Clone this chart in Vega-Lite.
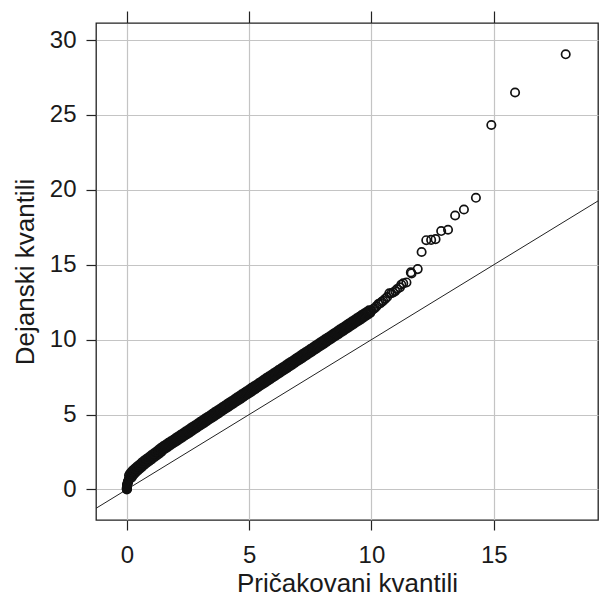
{
"$schema": "https://vega.github.io/schema/vega-lite/v6.json",
"width": 502, "height": 497,
"autosize": {"type": "none"},
"padding": {"left": 96, "top": 23, "right": 1, "bottom": 76},
"background": "white",
"config": {
 "view": {"stroke": "#222222", "strokeWidth": 1.3},
 "font": "Liberation Sans",
 "axis": {"labelFont": "Liberation Sans", "titleFont": "Liberation Sans", "labelColor": "#1a1a1a", "titleColor": "#1a1a1a", "titleFontWeight": "normal", "tickColor": "#222222", "domain": false, "gridColor": "#c4c4c4", "gridWidth": 1.2, "labelFontSize": 24, "titleFontSize": 26}
},
"datasets": {
 "ref": [{"exp": -1.26, "obs": -1.26}, {"exp": 19.26, "obs": 19.26}],
 "pts": [
{"exp":0,"obs":0},{"exp":0,"obs":0.03},{"exp":0,"obs":0.06},{"exp":0.001,"obs":0.09},{"exp":0.002,"obs":0.12},{"exp":0.004,"obs":0.16},{"exp":0.006,"obs":0.2},{"exp":0.009,"obs":0.24},{"exp":0.013,"obs":0.28},{"exp":0.018,"obs":0.33},{"exp":0.025,"obs":0.38},{"exp":0.033,"obs":0.43},{"exp":0.043,"obs":0.49},{"exp":0.055,"obs":0.55},{"exp":0.068,"obs":0.61},{"exp":0.083,"obs":0.67},{"exp":0.1,"obs":0.73},{"exp":0.12,"obs":0.8},{"exp":0.14,"obs":0.86},{"exp":0.165,"obs":0.93},{"exp":0.19,"obs":0.99},{"exp":0.22,"obs":1.05},{"exp":0.25,"obs":1.11},{"exp":0.28,"obs":1.16},{"exp":0.31,"obs":1.21},{"exp":0.35,"obs":1.27},{"exp":0.39,"obs":1.33},{"exp":0.43,"obs":1.39},{"exp":0.47,"obs":1.45},{"exp":0.51,"obs":1.51},{"exp":0.56,"obs":1.57},{"exp":0.61,"obs":1.64},{"exp":0.66,"obs":1.71},{"exp":0.71,"obs":1.78},{"exp":0.76,"obs":1.85},{"exp":0.81,"obs":1.91},{"exp":0.86,"obs":1.97},{"exp":0.91,"obs":2.03},{"exp":0.96,"obs":2.09},{"exp":1.01,"obs":2.15},{"exp":1.06,"obs":2.21},{"exp":1.11,"obs":2.27},{"exp":1.16,"obs":2.33},{"exp":1.21,"obs":2.39},{"exp":1.26,"obs":2.45},{"exp":1.31,"obs":2.51},{"exp":1.36,"obs":2.58},
{"exp":0.19,"obs":0.78},{"exp":0.24,"obs":0.91},{"exp":0.30,"obs":1.03},{"exp":0.36,"obs":1.13},{"exp":0.44,"obs":1.25},{"exp":0.52,"obs":1.37},{"exp":0.61,"obs":1.49},{"exp":0.71,"obs":1.63},{"exp":0.81,"obs":1.77},{"exp":0.91,"obs":1.89},{"exp":1.01,"obs":2.01},{"exp":1.11,"obs":2.13},{"exp":1.21,"obs":2.25},{"exp":1.31,"obs":2.37},{"exp":1.41,"obs":2.50},
{"exp":0.09,"obs":0.94},{"exp":0.14,"obs":1.07},{"exp":0.20,"obs":1.19},{"exp":0.26,"obs":1.29},{"exp":0.34,"obs":1.41},{"exp":0.42,"obs":1.53},{"exp":0.51,"obs":1.65},{"exp":0.61,"obs":1.79},{"exp":0.71,"obs":1.93},{"exp":0.81,"obs":2.05},{"exp":0.91,"obs":2.17},{"exp":1.01,"obs":2.29},{"exp":1.11,"obs":2.41},{"exp":1.21,"obs":2.53},{"exp":1.31,"obs":2.66},
{"exp":1.40,"obs":2.78},{"exp":1.50,"obs":2.89},{"exp":1.60,"obs":3.00},{"exp":1.70,"obs":3.11},{"exp":1.80,"obs":3.21},{"exp":1.90,"obs":3.32},{"exp":2.00,"obs":3.43},{"exp":2.10,"obs":3.54},{"exp":2.20,"obs":3.65},{"exp":2.30,"obs":3.75},{"exp":2.40,"obs":3.86},{"exp":2.50,"obs":3.97},{"exp":2.60,"obs":4.08},{"exp":2.70,"obs":4.19},{"exp":2.80,"obs":4.29},{"exp":2.90,"obs":4.40},{"exp":3.00,"obs":4.51},{"exp":3.10,"obs":4.62},{"exp":3.20,"obs":4.73},{"exp":3.30,"obs":4.83},{"exp":3.40,"obs":4.94},{"exp":3.50,"obs":5.05},{"exp":3.60,"obs":5.16},{"exp":3.70,"obs":5.27},{"exp":3.80,"obs":5.37},{"exp":3.90,"obs":5.48},{"exp":4.00,"obs":5.59},{"exp":4.10,"obs":5.70},{"exp":4.20,"obs":5.81},{"exp":4.30,"obs":5.91},{"exp":4.40,"obs":6.02},{"exp":4.50,"obs":6.13},{"exp":4.60,"obs":6.24},{"exp":4.70,"obs":6.35},{"exp":4.80,"obs":6.45},{"exp":4.90,"obs":6.56},{"exp":5.00,"obs":6.67},{"exp":5.10,"obs":6.78},{"exp":5.20,"obs":6.89},{"exp":5.30,"obs":6.99},{"exp":5.40,"obs":7.10},{"exp":5.50,"obs":7.21},{"exp":5.60,"obs":7.32},{"exp":5.70,"obs":7.43},{"exp":5.80,"obs":7.53},{"exp":5.90,"obs":7.64},{"exp":6.00,"obs":7.75},{"exp":6.10,"obs":7.86},{"exp":6.20,"obs":7.97},{"exp":6.30,"obs":8.07},{"exp":6.40,"obs":8.18},{"exp":6.50,"obs":8.29},{"exp":6.60,"obs":8.40},{"exp":6.70,"obs":8.51},{"exp":6.80,"obs":8.61},{"exp":6.90,"obs":8.72},{"exp":7.00,"obs":8.83},{"exp":7.10,"obs":8.94},{"exp":7.20,"obs":9.05},{"exp":7.30,"obs":9.15},{"exp":7.40,"obs":9.26},{"exp":7.50,"obs":9.37},{"exp":7.60,"obs":9.48},{"exp":7.70,"obs":9.59},{"exp":7.80,"obs":9.69},{"exp":7.90,"obs":9.80},{"exp":8.00,"obs":9.91},{"exp":8.10,"obs":10.02},{"exp":8.20,"obs":10.13},{"exp":8.30,"obs":10.23},{"exp":8.40,"obs":10.34},{"exp":8.50,"obs":10.45},{"exp":8.60,"obs":10.56},{"exp":8.70,"obs":10.67},{"exp":8.80,"obs":10.77},{"exp":8.90,"obs":10.88},{"exp":9.00,"obs":10.99},{"exp":9.10,"obs":11.10},{"exp":9.20,"obs":11.21},{"exp":9.30,"obs":11.31},{"exp":9.40,"obs":11.42},{"exp":9.50,"obs":11.53},{"exp":9.60,"obs":11.64},{"exp":9.70,"obs":11.75},{"exp":9.80,"obs":11.85},{"exp":9.90,"obs":11.96},
{"exp":1.45,"obs":2.60},{"exp":1.55,"obs":2.70},{"exp":1.65,"obs":2.81},{"exp":1.75,"obs":2.92},{"exp":1.85,"obs":3.03},{"exp":1.95,"obs":3.14},{"exp":2.05,"obs":3.24},{"exp":2.15,"obs":3.35},{"exp":2.25,"obs":3.46},{"exp":2.35,"obs":3.57},{"exp":2.45,"obs":3.68},{"exp":2.55,"obs":3.78},{"exp":2.65,"obs":3.89},{"exp":2.75,"obs":4.00},{"exp":2.85,"obs":4.11},{"exp":2.95,"obs":4.22},{"exp":3.05,"obs":4.32},{"exp":3.15,"obs":4.43},{"exp":3.25,"obs":4.54},{"exp":3.35,"obs":4.65},{"exp":3.45,"obs":4.76},{"exp":3.55,"obs":4.86},{"exp":3.65,"obs":4.97},{"exp":3.75,"obs":5.08},{"exp":3.85,"obs":5.19},{"exp":3.95,"obs":5.30},{"exp":4.05,"obs":5.40},{"exp":4.15,"obs":5.51},{"exp":4.25,"obs":5.62},{"exp":4.35,"obs":5.73},{"exp":4.45,"obs":5.84},{"exp":4.55,"obs":5.94},{"exp":4.65,"obs":6.05},{"exp":4.75,"obs":6.16},{"exp":4.85,"obs":6.27},{"exp":4.95,"obs":6.38},{"exp":5.05,"obs":6.48},{"exp":5.15,"obs":6.59},{"exp":5.25,"obs":6.70},{"exp":5.35,"obs":6.81},{"exp":5.45,"obs":6.92},{"exp":5.55,"obs":7.02},{"exp":5.65,"obs":7.13},{"exp":5.75,"obs":7.24},{"exp":5.85,"obs":7.35},{"exp":5.95,"obs":7.46},{"exp":6.05,"obs":7.56},{"exp":6.15,"obs":7.67},{"exp":6.25,"obs":7.78},{"exp":6.35,"obs":7.89},{"exp":6.45,"obs":8.00},{"exp":6.55,"obs":8.10},{"exp":6.65,"obs":8.21},{"exp":6.75,"obs":8.32},{"exp":6.85,"obs":8.43},{"exp":6.95,"obs":8.54},{"exp":7.05,"obs":8.64},{"exp":7.15,"obs":8.75},{"exp":7.25,"obs":8.86},{"exp":7.35,"obs":8.97},{"exp":7.45,"obs":9.08},{"exp":7.55,"obs":9.18},{"exp":7.65,"obs":9.29},{"exp":7.75,"obs":9.40},{"exp":7.85,"obs":9.51},{"exp":7.95,"obs":9.62},{"exp":8.05,"obs":9.72},{"exp":8.15,"obs":9.83},{"exp":8.25,"obs":9.94},{"exp":8.35,"obs":10.05},{"exp":8.45,"obs":10.16},{"exp":8.55,"obs":10.26},{"exp":8.65,"obs":10.37},{"exp":8.75,"obs":10.48},{"exp":8.85,"obs":10.59},{"exp":8.95,"obs":10.70},{"exp":9.05,"obs":10.80},{"exp":9.15,"obs":10.91},{"exp":9.25,"obs":11.02},{"exp":9.35,"obs":11.13},{"exp":9.45,"obs":11.24},{"exp":9.55,"obs":11.34},{"exp":9.65,"obs":11.45},{"exp":9.75,"obs":11.56},{"exp":9.85,"obs":11.67},{"exp":9.95,"obs":11.78},
{"exp":1.425,"obs":2.69},{"exp":1.475,"obs":2.74},{"exp":1.525,"obs":2.80},{"exp":1.575,"obs":2.85},{"exp":1.625,"obs":2.91},{"exp":1.675,"obs":2.96},{"exp":1.725,"obs":3.01},{"exp":1.775,"obs":3.07},{"exp":1.825,"obs":3.12},{"exp":1.875,"obs":3.18},{"exp":1.925,"obs":3.23},{"exp":1.975,"obs":3.28},{"exp":2.025,"obs":3.34},{"exp":2.075,"obs":3.39},{"exp":2.125,"obs":3.45},{"exp":2.175,"obs":3.50},{"exp":2.225,"obs":3.55},{"exp":2.275,"obs":3.61},{"exp":2.325,"obs":3.66},{"exp":2.375,"obs":3.72},{"exp":2.425,"obs":3.77},{"exp":2.475,"obs":3.82},{"exp":2.525,"obs":3.88},{"exp":2.575,"obs":3.93},{"exp":2.625,"obs":3.99},{"exp":2.675,"obs":4.04},{"exp":2.725,"obs":4.09},{"exp":2.775,"obs":4.15},{"exp":2.825,"obs":4.20},{"exp":2.875,"obs":4.26},{"exp":2.925,"obs":4.31},{"exp":2.975,"obs":4.36},{"exp":3.025,"obs":4.42},{"exp":3.075,"obs":4.47},{"exp":3.125,"obs":4.53},{"exp":3.175,"obs":4.58},{"exp":3.225,"obs":4.63},{"exp":3.275,"obs":4.69},{"exp":3.325,"obs":4.74},{"exp":3.375,"obs":4.80},{"exp":3.425,"obs":4.85},{"exp":3.475,"obs":4.90},{"exp":3.525,"obs":4.96},{"exp":3.575,"obs":5.01},{"exp":3.625,"obs":5.07},{"exp":3.675,"obs":5.12},{"exp":3.725,"obs":5.17},{"exp":3.775,"obs":5.23},{"exp":3.825,"obs":5.28},{"exp":3.875,"obs":5.34},{"exp":3.925,"obs":5.39},{"exp":3.975,"obs":5.44},{"exp":4.025,"obs":5.50},{"exp":4.075,"obs":5.55},{"exp":4.125,"obs":5.61},{"exp":4.175,"obs":5.66},{"exp":4.225,"obs":5.71},{"exp":4.275,"obs":5.77},{"exp":4.325,"obs":5.82},{"exp":4.375,"obs":5.88},{"exp":4.425,"obs":5.93},{"exp":4.475,"obs":5.98},{"exp":4.525,"obs":6.04},{"exp":4.575,"obs":6.09},{"exp":4.625,"obs":6.15},{"exp":4.675,"obs":6.20},{"exp":4.725,"obs":6.25},{"exp":4.775,"obs":6.31},{"exp":4.825,"obs":6.36},{"exp":4.875,"obs":6.42},{"exp":4.925,"obs":6.47},{"exp":4.975,"obs":6.52},{"exp":5.025,"obs":6.58},{"exp":5.075,"obs":6.63},{"exp":5.125,"obs":6.69},{"exp":5.175,"obs":6.74},{"exp":5.225,"obs":6.79},{"exp":5.275,"obs":6.85},{"exp":5.325,"obs":6.90},{"exp":5.375,"obs":6.96},{"exp":5.425,"obs":7.01},{"exp":5.475,"obs":7.06},{"exp":5.525,"obs":7.12},{"exp":5.575,"obs":7.17},{"exp":5.625,"obs":7.23},{"exp":5.675,"obs":7.28},{"exp":5.725,"obs":7.33},{"exp":5.775,"obs":7.39},{"exp":5.825,"obs":7.44},{"exp":5.875,"obs":7.50},{"exp":5.925,"obs":7.55},{"exp":5.975,"obs":7.60},{"exp":6.025,"obs":7.66},{"exp":6.075,"obs":7.71},{"exp":6.125,"obs":7.77},{"exp":6.175,"obs":7.82},{"exp":6.225,"obs":7.87},{"exp":6.275,"obs":7.93},{"exp":6.325,"obs":7.98},{"exp":6.375,"obs":8.04},{"exp":6.425,"obs":8.09},{"exp":6.475,"obs":8.14},{"exp":6.525,"obs":8.20},{"exp":6.575,"obs":8.25},{"exp":6.625,"obs":8.31},{"exp":6.675,"obs":8.36},{"exp":6.725,"obs":8.41},{"exp":6.775,"obs":8.47},{"exp":6.825,"obs":8.52},{"exp":6.875,"obs":8.58},{"exp":6.925,"obs":8.63},{"exp":6.975,"obs":8.68},{"exp":7.025,"obs":8.74},{"exp":7.075,"obs":8.79},{"exp":7.125,"obs":8.85},{"exp":7.175,"obs":8.90},{"exp":7.225,"obs":8.95},{"exp":7.275,"obs":9.01},{"exp":7.325,"obs":9.06},{"exp":7.375,"obs":9.12},{"exp":7.425,"obs":9.17},{"exp":7.475,"obs":9.22},{"exp":7.525,"obs":9.28},{"exp":7.575,"obs":9.33},{"exp":7.625,"obs":9.39},{"exp":7.675,"obs":9.44},{"exp":7.725,"obs":9.49},{"exp":7.775,"obs":9.55},{"exp":7.825,"obs":9.60},{"exp":7.875,"obs":9.66},{"exp":7.925,"obs":9.71},{"exp":7.975,"obs":9.76},{"exp":8.025,"obs":9.82},{"exp":8.075,"obs":9.87},{"exp":8.125,"obs":9.93},{"exp":8.175,"obs":9.98},{"exp":8.225,"obs":10.03},{"exp":8.275,"obs":10.09},{"exp":8.325,"obs":10.14},{"exp":8.375,"obs":10.20},{"exp":8.425,"obs":10.25},{"exp":8.475,"obs":10.30},{"exp":8.525,"obs":10.36},{"exp":8.575,"obs":10.41},{"exp":8.625,"obs":10.47},{"exp":8.675,"obs":10.52},{"exp":8.725,"obs":10.57},{"exp":8.775,"obs":10.63},{"exp":8.825,"obs":10.68},{"exp":8.875,"obs":10.74},{"exp":8.925,"obs":10.79},{"exp":8.975,"obs":10.84},{"exp":9.025,"obs":10.90},{"exp":9.075,"obs":10.95},{"exp":9.125,"obs":11.01},{"exp":9.175,"obs":11.06},{"exp":9.225,"obs":11.11},{"exp":9.275,"obs":11.17},{"exp":9.325,"obs":11.22},{"exp":9.375,"obs":11.28},{"exp":9.425,"obs":11.33},{"exp":9.475,"obs":11.38},{"exp":9.525,"obs":11.44},{"exp":9.575,"obs":11.49},{"exp":9.625,"obs":11.55},{"exp":9.675,"obs":11.60},{"exp":9.725,"obs":11.65},{"exp":9.775,"obs":11.71},{"exp":9.825,"obs":11.76},{"exp":9.875,"obs":11.82},{"exp":9.925,"obs":11.87},{"exp":9.975,"obs":11.92},
{"exp":10.00,"obs":11.95},{"exp":10.07,"obs":12.04},{"exp":10.13,"obs":12.1},{"exp":10.2,"obs":12.22},{"exp":10.28,"obs":12.38},{"exp":10.35,"obs":12.42},{"exp":10.42,"obs":12.52},{"exp":10.48,"obs":12.6},{"exp":10.56,"obs":12.72},{"exp":10.64,"obs":12.85},{"exp":10.73,"obs":13.09},{"exp":10.81,"obs":13.1},{"exp":10.89,"obs":13.15},{"exp":10.97,"obs":13.24},{"exp":11.05,"obs":13.38},{"exp":11.16,"obs":13.49},{"exp":11.22,"obs":13.67},{"exp":11.3,"obs":13.76},{"exp":11.43,"obs":13.82},{"exp":11.61,"obs":14.49},{"exp":11.64,"obs":14.42},{"exp":11.89,"obs":14.71},{"exp":12.05,"obs":15.85},{"exp":12.24,"obs":16.64},{"exp":12.44,"obs":16.66},{"exp":12.62,"obs":16.71},{"exp":12.85,"obs":17.25},{"exp":13.13,"obs":17.34},{"exp":13.42,"obs":18.29},{"exp":13.78,"obs":18.69},{"exp":14.27,"obs":19.47},{"exp":14.9,"obs":24.33},{"exp":15.87,"obs":26.5},{"exp":17.94,"obs":29.05}
 ]
},
"resolve": {"axis": {"x": "independent", "y": "independent"}},
"layer": [
 {
  "data": {"name": "ref"},
  "mark": {"type": "line", "color": "#222222", "strokeWidth": 1, "clip": true},
  "encoding": {
   "x": {"field": "exp", "type": "quantitative", "scale": {"domain": [-1.26, 19.26], "nice": false, "zero": false},
         "axis": {"orient": "top", "values": [0, 5, 10, 15], "labels": false, "title": null, "grid": false, "tickSize": 12, "tickWidth": 1.2}},
   "y": {"field": "obs", "type": "quantitative", "scale": {"domain": [-2.04, 31.14], "nice": false, "zero": false}, "axis": null}
  }
 },
 {
  "data": {"name": "pts"},
  "mark": {"type": "point", "shape": "circle", "filled": false, "size": 70, "strokeWidth": 1.7, "color": "#111111", "opacity": 1},
  "encoding": {
   "x": {"field": "exp", "type": "quantitative", "scale": {"domain": [-1.26, 19.26], "nice": false, "zero": false},
         "axis": {"orient": "bottom", "values": [0, 5, 10, 15], "grid": true, "tickSize": 10, "tickWidth": 1.2, "labelPadding": 13, "title": "Pričakovani kvantili", "titleY": 71, "titleBaseline": "alphabetic"}},
   "y": {"field": "obs", "type": "quantitative", "scale": {"domain": [-2.04, 31.14], "nice": false, "zero": false},
         "axis": {"orient": "left", "values": [0, 5, 10, 15, 20, 25, 30], "grid": true, "tickSize": 10, "tickWidth": 1.2, "labelPadding": 10, "labelAngle": 0, "title": "Dejanski kvantili", "titleX": -63, "titleBaseline": "alphabetic"}}
  }
 }
]
}
